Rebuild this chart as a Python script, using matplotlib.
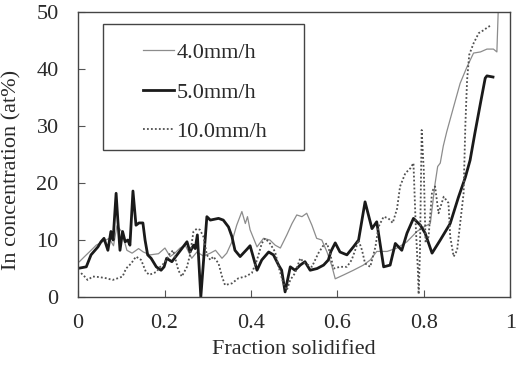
import matplotlib
matplotlib.use('Agg')
import matplotlib.pyplot as plt
from matplotlib.patches import Rectangle

plt.rcParams['font.family'] = ['Liberation Serif', 'DejaVu Serif']
plt.rcParams['font.size'] = 16

# 4.0 mm/h (thin grey)
frac_4 = [0.003, 0.015, 0.030, 0.042, 0.057, 0.072, 0.082, 0.090, 0.101, 0.113,
          0.125, 0.140, 0.151, 0.167, 0.186, 0.201, 0.213, 0.224, 0.236, 0.248,
          0.263, 0.275, 0.290, 0.306, 0.318, 0.333, 0.344, 0.356, 0.367, 0.379,
          0.387, 0.392, 0.398, 0.414, 0.429, 0.444, 0.456, 0.468, 0.483, 0.495,
          0.506, 0.518, 0.529, 0.541, 0.552, 0.564, 0.576, 0.587, 0.595, 0.615,
          0.637, 0.660, 0.676, 0.691, 0.715, 0.738, 0.761, 0.784, 0.800, 0.815,
          0.826, 0.832, 0.838, 0.845, 0.853, 0.869, 0.884, 0.900, 0.915, 0.931,
          0.946, 0.961, 0.969, 0.972]
conc_4 = [6.2, 7.1, 8.2, 9.1, 9.7, 10.3, 9.0, 12.5, 11.5, 8.2,
          7.7, 8.5, 7.9, 7.4, 7.6, 8.6, 7.1, 7.7, 8.6, 9.1,
          6.8, 7.9, 7.2, 7.7, 8.2, 6.8, 7.7, 9.7, 12.6, 15.0,
          12.9, 14.1, 11.8, 8.8, 10.3, 10.0, 9.1, 8.6, 10.9, 12.9,
          14.4, 14.1, 14.7, 12.6, 10.3, 10.0, 7.9, 5.5, 3.2, 3.9,
          4.7, 5.6, 6.5, 8.0, 8.0, 8.6, 9.7, 11.5, 12.3, 12.9,
          19.9, 22.9, 23.5, 26.5, 29.0, 33.4, 37.5, 40.4, 42.8, 43.0,
          43.5, 43.5, 43.0, 50.0]

# 5.0 mm/h (thick black)
frac_5 = [0.005, 0.019, 0.030, 0.046, 0.053, 0.060, 0.069, 0.076, 0.081, 0.088,
          0.092, 0.097, 0.103, 0.109, 0.115, 0.120, 0.127, 0.134, 0.141, 0.150,
          0.155, 0.161, 0.169, 0.181, 0.192, 0.199, 0.205, 0.217, 0.232, 0.252,
          0.259, 0.267, 0.271, 0.276, 0.284, 0.298, 0.306, 0.325, 0.336, 0.348,
          0.356, 0.363, 0.375, 0.391, 0.398, 0.414, 0.425, 0.441, 0.452, 0.464,
          0.471, 0.479, 0.491, 0.502, 0.514, 0.525, 0.537, 0.553, 0.568, 0.579,
          0.585, 0.595, 0.606, 0.622, 0.637, 0.649, 0.664, 0.680, 0.691, 0.707,
          0.722, 0.734, 0.749, 0.761, 0.776, 0.792, 0.803, 0.819, 0.838, 0.861,
          0.880, 0.896, 0.907, 0.918, 0.931, 0.942, 0.946, 0.960]
conc_5 = [5.1, 5.3, 7.4, 8.8, 9.7, 10.3, 8.2, 11.5, 10.0, 18.2,
          13.5, 8.2, 11.5, 9.7, 10.0, 9.1, 18.6, 12.6, 13.0, 13.0,
          10.0, 7.4, 6.8, 5.3, 4.7, 5.3, 6.8, 6.2, 7.7, 9.7,
          7.9, 9.1, 8.5, 10.9, 0.0, 14.1, 13.5, 13.8, 13.5, 12.3,
          10.6, 8.2, 7.1, 8.4, 9.0, 4.7, 6.5, 7.9, 7.4, 5.6,
          4.7, 0.9, 5.3, 4.7, 5.6, 6.2, 4.7, 5.0, 5.6, 6.5,
          8.0, 9.5, 7.9, 7.4, 8.8, 10.0, 16.7, 12.0, 13.2, 5.3,
          5.6, 9.4, 8.2, 11.2, 13.8, 12.6, 11.2, 7.7, 10.0, 12.9,
          17.5, 21.0, 24.0, 28.7, 34.0, 38.4, 38.8, 38.6]

# 10.0 mm/h (dotted)
frac_10 = [0.007, 0.015, 0.022, 0.034, 0.049, 0.065, 0.080, 0.092, 0.103, 0.111,
           0.123, 0.134, 0.146, 0.157, 0.165, 0.181, 0.190, 0.200, 0.213, 0.220,
           0.232, 0.240, 0.252, 0.259, 0.267, 0.275, 0.282, 0.290, 0.298, 0.306,
           0.313, 0.325, 0.333, 0.340, 0.356, 0.371, 0.387, 0.402, 0.414, 0.425,
           0.433, 0.444, 0.456, 0.464, 0.475, 0.483, 0.491, 0.502, 0.514, 0.525,
           0.541, 0.556, 0.568, 0.576, 0.583, 0.591, 0.606, 0.622, 0.633, 0.641,
           0.649, 0.657, 0.664, 0.676, 0.688, 0.695, 0.707, 0.718, 0.728, 0.738,
           0.745, 0.757, 0.769, 0.776, 0.781, 0.786, 0.788, 0.791, 0.795, 0.800,
           0.804, 0.811, 0.819, 0.826, 0.834, 0.846, 0.857, 0.861, 0.869, 0.877,
           0.884, 0.892, 0.896, 0.900, 0.905, 0.915, 0.927, 0.938, 0.949, 0.957]
conc_10 = [4.2, 3.6, 3.0, 3.6, 3.5, 3.3, 3.0, 3.3, 3.6, 5.0,
           5.9, 7.1, 6.5, 4.4, 3.9, 4.4, 5.3, 6.0, 7.7, 8.2,
           4.7, 3.6, 5.3, 7.4, 11.5, 12.0, 11.8, 10.6, 7.4, 6.5,
           7.1, 5.9, 3.6, 2.1, 2.4, 3.3, 3.6, 4.2, 6.5, 9.4,
           10.3, 9.4, 7.9, 5.3, 2.4, 1.2, 3.0, 4.2, 6.8, 5.9,
           5.3, 7.7, 9.1, 9.4, 7.7, 5.0, 5.3, 5.3, 6.5, 8.2,
           10.0, 8.2, 5.9, 5.3, 8.8, 12.3, 14.1, 13.8, 13.0, 15.5,
           19.4, 21.7, 22.6, 23.5, 13.0, 5.0, 0.5, 8.0, 29.3, 22.0,
           9.5, 10.6, 18.5, 19.4, 14.7, 17.6, 16.5, 10.6, 7.1, 8.2,
           12.9, 18.2, 30.0, 38.0, 42.5, 44.5, 46.3, 46.8, 47.4, 47.7]

x_ticks = [0, 0.2, 0.4, 0.6, 0.8, 1]
x_ticklabels = ['0', '0.2', '0.4', '0.6', '0.8', '1']
y_ticks = [0, 10, 20, 30, 40, 50]

fig = plt.figure(figsize=(5.17, 3.76), dpi=100)
ax = fig.add_axes([0.151, 0.210, 0.836, 0.758])

ax.plot(frac_4, conc_4, color='#8c8c8c', lw=0.9, label='4.0mm/h')
ax.plot(frac_5, conc_5, color='#1a1a1a', lw=2.0, label='5.0mm/h')
ax.plot(frac_10, conc_10, color='#505050', lw=1.3, linestyle=(0, (1, 1.2)),
        label='10.0mm/h')

ax.set_xlim(0, 1)
ax.set_ylim(0, 50)
ax.set_xticks(x_ticks)
ax.set_xticklabels(x_ticklabels)
ax.set_yticks(y_ticks)
ax.tick_params(direction='in', length=5, width=0.8, color='#555555',
               labelcolor='#2a2a2a', labelsize=16)
ax.tick_params(axis='x', pad=12)
ax.tick_params(axis='y', pad=14)
for s in ax.spines.values():
    s.set_color('#444444')
    s.set_linewidth(1.0)

ax.set_xlabel('Fraction solidified', fontsize=16, color='#2a2a2a', labelpad=5)
ax.set_ylabel('In concentration (at%)', fontsize=16, color='#2a2a2a')
ax.yaxis.set_label_coords(-0.13, 0.445)

# legend box drawn separately so the entries can sit in its middle
ax.add_patch(Rectangle((0.058, 0.516), 0.465, 0.442, transform=ax.transAxes,
                       fill=False, ec='#444444', lw=1.0, zorder=5))
leg = ax.legend(loc='upper left', bbox_to_anchor=(0.150, 0.893), frameon=False,
                borderpad=0, borderaxespad=0, handlelength=1.4,
                handletextpad=0.1, labelspacing=0.85, fontsize=16)
for t in leg.get_texts():
    t.set_color('#2a2a2a')

fig.savefig('out.png', dpi=100, facecolor='white')
